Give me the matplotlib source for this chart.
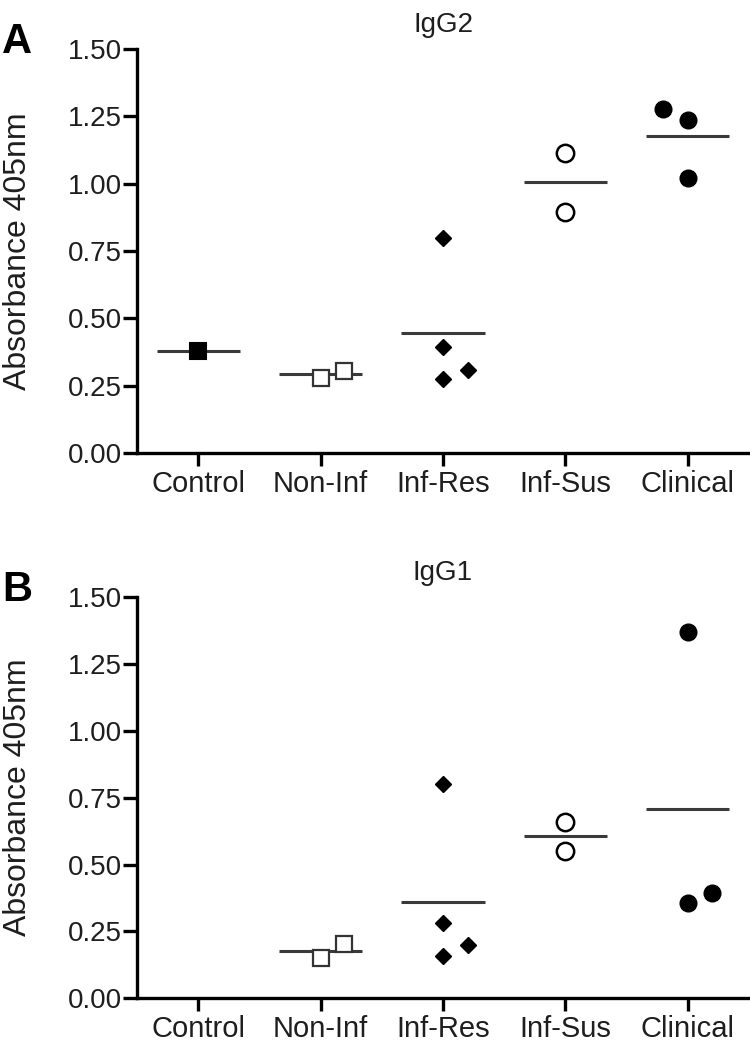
import numpy as np
import matplotlib
matplotlib.use('Agg')
import matplotlib.pyplot as plt

plt.rcParams['font.family'] = ['Liberation Sans', 'DejaVu Sans']

groups = ['Control', 'Non-Inf', 'Inf-Res', 'Inf-Sus', 'Clinical']

# IgG2 (panel A) absorbance values per group
igg2_control = [0.38]
igg2_noninf = [0.28, 0.305]
igg2_infres = [0.80, 0.395, 0.275, 0.31]
igg2_infsus = [1.114, 0.895]
igg2_clinical = [1.277, 1.237, 1.021]

# IgG1 (panel B) absorbance values per group
igg1_control = []
igg1_noninf = [0.152, 0.205]
igg1_infres = [0.80, 0.283, 0.158, 0.198]
igg1_infsus = [0.659, 0.552]
igg1_clinical = [1.367, 0.358, 0.395]

# horizontal scatter of the points inside each group
jit_a = [[0.0], [0.0, 0.19], [0.0, 0.0, 0.0, 0.2], [0.0, 0.0], [-0.2, 0.0, 0.0]]
jit_b = [[], [0.0, 0.19], [0.0, 0.0, 0.0, 0.2], [0.0, 0.0], [0.0, 0.0, 0.2]]

# marker style per group
styles = [
    dict(marker='s', ms=12, mfc='black', mec='black', mew=1.5),
    dict(marker='s', ms=12, mfc='white', mec='#333333', mew=1.6),
    dict(marker='D', ms=8, mfc='black', mec='black', mew=1),
    dict(marker='o', ms=12.5, mfc='white', mec='black', mew=1.8),
    dict(marker='o', ms=12, mfc='black', mec='black', mew=1),
]

TXT = '#1e1e1e'


def draw_panel(ax, data, jit, title):
    for i, vals in enumerate(data):
        if len(vals) == 0:
            continue
        xs = [i + j for j in jit[i]]
        ax.hlines(np.mean(vals), i - 0.34, i + 0.34, color='#3a3a3a', lw=2.2, zorder=2)
        ax.plot(xs, vals, ls='none', zorder=3, **styles[i])
    ax.set_xlim(-0.5, 4.5)
    ax.set_ylim(0, 1.5)
    ax.set_yticks([0, 0.25, 0.5, 0.75, 1.0, 1.25, 1.5])
    ax.set_yticklabels(['0.00', '0.25', '0.50', '0.75', '1.00', '1.25', '1.50'])
    ax.set_xticks(range(len(groups)))
    ax.set_xticklabels(groups)
    for s in ['top', 'right']:
        ax.spines[s].set_visible(False)
    for s in ['left', 'bottom']:
        ax.spines[s].set_linewidth(2.4)
    ax.tick_params(axis='y', length=10, width=2.4, labelsize=20, colors='black',
                   labelcolor=TXT, pad=1)
    ax.tick_params(axis='x', length=9, width=2.4, labelsize=21, colors='black',
                   labelcolor=TXT, pad=3)
    ax.set_title(title, fontsize=20, color=TXT, pad=12)


fig = plt.figure(figsize=(7.5, 10.46), dpi=100)
ax_a = fig.add_axes([0.1827, 0.5669, 0.816, 0.3863])
ax_b = fig.add_axes([0.1827, 0.0455, 0.816, 0.3840])

draw_panel(ax_a, [igg2_control, igg2_noninf, igg2_infres, igg2_infsus, igg2_clinical],
           jit_a, 'IgG2')
draw_panel(ax_b, [igg1_control, igg1_noninf, igg1_infres, igg1_infsus, igg1_clinical],
           jit_b, 'IgG1')

# y labels and panel letters
for ax, letter, base in [(ax_a, 'A', 1 - 53 / 1046), (ax_b, 'B', 1 - 601 / 1046)]:
    box = ax.get_position()
    fig.text(18 / 750, box.y0 + box.height / 2, 'Absorbance 405nm', rotation=90,
             ha='center', va='center', fontsize=23, color=TXT)
    fig.text(2 / 750, base, letter, fontsize=30, fontweight='bold', color='black',
             ha='left', va='baseline')

fig.savefig('out.png', dpi=100)
